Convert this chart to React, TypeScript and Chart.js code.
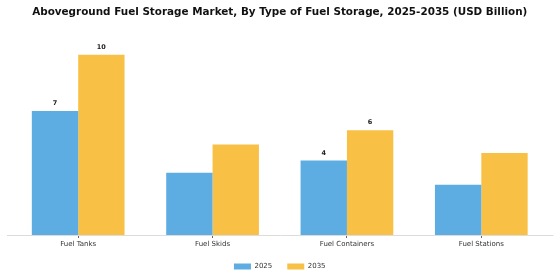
import React, { useEffect, useRef } from "react";
import { Chart, registerables } from "chart.js";

Chart.register(...registerables);

const categories = ["Fuel Tanks", "Fuel Skids", "Fuel Containers", "Fuel Stations"];
const values2025 = [6.88, 3.45, 4.13, 2.78];
const values2035 = [10.0, 5.02, 5.81, 4.55];
const labels2025 = ["7", "", "4", ""];
const labels2035 = ["10", "", "6", ""];
const seriesNames = ["2025", "2035"];
const titleText = "Aboveground Fuel Storage Market, By Type of Fuel Storage, 2025-2035 (USD Billion)";

const FONT = "'DejaVu Sans', sans-serif";

const valueLabelPlugin = {
  id: "valueLabels",
  beforeDatasetsDraw(chart: any) {
    const ctx = chart.ctx;
    const a = chart.chartArea;
    ctx.save();
    ctx.strokeStyle = "#dcdcdc";
    ctx.lineWidth = 1;
    ctx.beginPath();
    ctx.moveTo(a.left - 4, Math.round(a.bottom) + 0.5);
    ctx.lineTo(a.right + 5, Math.round(a.bottom) + 0.5);
    ctx.stroke();
    ctx.restore();
  },
  afterDatasetsDraw(chart: any) {
    const ctx = chart.ctx;
    const labelSets = [labels2025, labels2035];
    ctx.save();
    ctx.font = `bold 6.5px ${FONT}`;
    ctx.fillStyle = "#222";
    ctx.textAlign = "center";
    ctx.textBaseline = "middle";
    chart.data.datasets.forEach((_: any, di: number) => {
      const meta = chart.getDatasetMeta(di);
      meta.data.forEach((bar: any, i: number) => {
        const t = labelSets[di][i];
        if (t) ctx.fillText(t, bar.x, bar.y - 7.5);
      });
    });
    ctx.restore();
  },
};

export default function App() {
  const ref = useRef<HTMLCanvasElement>(null);
  useEffect(() => {
    if (!ref.current) return;
    const chart = new Chart(ref.current, {
      type: "bar",
      data: {
        labels: categories,
        datasets: [
          { label: seriesNames[0], data: values2025, backgroundColor: "#5dade2" },
          { label: seriesNames[1], data: values2035, backgroundColor: "#f8c146" },
        ],
      },
      options: {
        animation: false,
        responsive: false,
        layout: { padding: { left: 11, right: 11.5, top: 6, bottom: 0 } },
        datasets: { bar: { categoryPercentage: 0.69, barPercentage: 1 } },
        scales: {
          x: {
            grid: {
              display: true,
              offset: false,
              drawOnChartArea: false,
              drawTicks: true,
              tickLength: 3,
              tickColor: "#666",
            },
            border: { display: false },
            ticks: { font: { family: FONT, size: 7 }, color: "#333", padding: 1.5 },
            afterFit(scale: any) {
              scale.height = 13;
            },
          },
          y: {
            display: false,
            min: 0,
            max: 11.45,
          },
        },
        plugins: {
          title: {
            display: true,
            text: titleText,
            font: { family: FONT, size: 10.4, weight: "bold" },
            color: "#111",
            padding: { top: 0, bottom: 10 },
          },
          legend: {
            position: "bottom",
            labels: {
              font: { family: FONT, size: 7 },
              color: "#333",
              boxWidth: 17,
              boxHeight: 6,
              padding: 15,
            },
          },
          tooltip: { enabled: false },
        },
      },
      plugins: [valueLabelPlugin],
    });
    return () => chart.destroy();
  }, []);
  return (
    <div style={{ position: "absolute", left: 0, top: 0, width: 560, height: 280, background: "#fff" }}>
      <canvas ref={ref} width={560} height={280} />
    </div>
  );
}
